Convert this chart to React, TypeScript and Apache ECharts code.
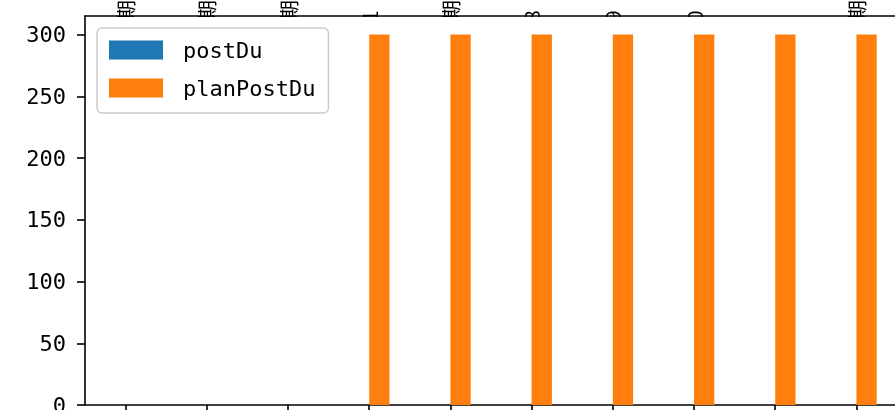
import React, { useEffect, useRef } from "react";
import * as echarts from "echarts";

const categories = ["未排期", "暂无排期", "无排期", "2024-01-01", "待排期", "2024-01-08", "2024-01-09", "2024-01-10", "2024-01-1", "已排期"];
const postDu = [0, 0, 0, 0, 0, 0, 0, 0, 0, 0];
const planPostDu = [0, 0, 0, 300, 300, 300, 300, 300, 300, 300];
const yTicks = [0, 50, 100, 150, 200, 250, 300];
const yMax = 315;
// visible fragments of the (cropped) rotated labels above the plot
const topFragments = ["期", "期", "期", "1", "期", "8", "9", "0", "", "期"];

const MONO = '"DejaVu Sans Mono", "Liberation Mono", monospace';

export default function App() {
  const ref = useRef<HTMLDivElement>(null);
  useEffect(() => {
    if (!ref.current) return;
    const chart = echarts.init(ref.current, null, { renderer: "svg" });
    const axisStyle = { color: "#000", width: 1.6 };
    chart.setOption({
      animation: false,
      grid: { left: 85, right: -2, top: 16, bottom: 5, containLabel: false, outerBoundsMode: "none" },
      legend: {
        orient: "vertical",
        left: 97,
        top: 28,
        data: ["postDu", "planPostDu"],
        icon: "rect",
        itemWidth: 54,
        itemHeight: 19,
        itemGap: 16,
        padding: [11, 13, 14, 12],
        borderColor: "#cccccc",
        borderWidth: 1.5,
        borderRadius: 5,
        backgroundColor: "rgba(255,255,255,0.8)",
        selectedMode: false,
        textStyle: { fontFamily: MONO, fontSize: 22, color: "#000", lineHeight: 19, padding: [0, 0, 0, 15] },
      },
      xAxis: [
        {
          type: "category",
          data: categories,
          position: "bottom",
          axisLine: { show: true, lineStyle: axisStyle },
          axisTick: { show: true, alignWithLabel: true, length: 8, lineStyle: axisStyle },
          axisLabel: { show: false },
          splitLine: { show: false },
        },
        {
          type: "category",
          data: categories,
          position: "top",
          axisLine: { show: true, onZero: false, lineStyle: axisStyle },
          axisTick: { show: false },
          axisLabel: { show: false },
          splitLine: { show: false },
        },
      ],
      yAxis: {
        type: "value",
        min: 0,
        max: yMax,
        interval: 50,
        axisLine: { show: true, lineStyle: axisStyle },
        axisTick: { show: true, length: 8, lineStyle: axisStyle, customValues: yTicks },
        axisLabel: { customValues: yTicks, margin: 19, fontFamily: MONO, fontSize: 22, color: "#000" },
        splitLine: { show: false },
      },
      series: [
        { name: "postDu", type: "bar", data: postDu, barWidth: "25%", barGap: "0%", itemStyle: { color: "#1f77b4" } },
        { name: "planPostDu", type: "bar", data: planPostDu, barWidth: "25%", barGap: "0%", itemStyle: { color: "#ff7f0e" } },
      ],
    });

    const elements: any[] = [];
    topFragments.forEach((t, i) => {
      if (!t) return;
      const x = chart.convertToPixel({ xAxisIndex: 0 }, i) as number;
      const cjk = /[^\x00-\x7f]/.test(t);
      elements.push({
        type: "text",
        x,
        y: cjk ? 10 : 16,
        rotation: Math.PI / 2,
        z: 0,
        silent: true,
        style: { text: t, font: '20px "Noto Sans CJK SC"', fill: "#000", align: "center", verticalAlign: "middle" },
      });
    });
    elements.push({
      type: "rect",
      z: 1,
      silent: true,
      shape: { x: 86, y: 17, width: 812, height: 387 },
      style: { fill: "#fff" },
    });
    chart.setOption({ graphic: elements });
    return () => chart.dispose();
  }, []);
  return (
    <div
      ref={ref}
      style={{ position: "fixed", left: 0, top: 0, width: 895, height: 410, overflow: "hidden" }}
    />
  );
}
